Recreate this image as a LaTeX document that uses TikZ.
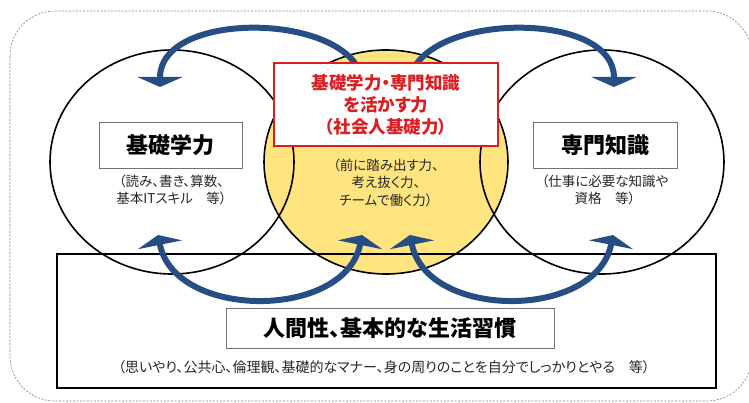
\documentclass[tikz,border=0pt]{standalone}
\usepackage{fontspec}
\setmainfont{Noto Sans CJK JP}[RawFeature={+palt}]
\usetikzlibrary{shapes.geometric,arrows.meta}

\definecolor{ringyellow}{RGB}{255,228,128}
\definecolor{arrowblue}{RGB}{38,78,132}
\definecolor{keyred}{RGB}{220,30,35}

\tikzset{
  ring/.style={ellipse, draw=black, line width=1.6pt, minimum width=244pt, minimum height=224pt, inner sep=0pt},
  labelbox/.style={draw=black!55, line width=0.8pt, fill=white, inner sep=0pt, font=\bfseries\fontsize{22}{26}\selectfont},
  note/.style={align=center, text=black!85, font=\fontsize{13.5}{16.5}\selectfont},
  bluearc/.style={arrowblue, line width=6pt, -{Triangle[width=45pt,length=10pt]}},
  bluearcs/.style={arrowblue, line width=6pt, {Triangle[width=45pt,length=10pt]}-{Triangle[width=45pt,length=10pt]}}
}

\begin{document}
\begin{tikzpicture}[x=1pt,y=-1pt]
\useasboundingbox (0,0) rectangle (749,403);
\draw[black!50, line width=0.6pt, dash pattern=on 2pt off 1.5pt, rounded corners=45pt] (10,11) rectangle (752,401);

% the three rings
\node[ring, fill=ringyellow] (mid) at (386,162) {};
\node[ring] (basic) at (172,162) {};
\node[ring] (spec) at (602,162) {};

% base box
\node[draw=black, line width=2pt, minimum width=659pt, minimum height=134pt, inner sep=0pt] (habit) at (386.5,321) {};

% arrow ends
\coordinate (tlS) at (360,72);
\coordinate (tlE) at (160,87);
\coordinate (trS) at (412,72);
\coordinate (trE) at (614,87);
\coordinate (blA) at (158,235);
\coordinate (blB) at (362,235);
\coordinate (brA) at (410,235);
\coordinate (brB) at (613,235);

\draw[bluearc] (tlS) .. controls (335,12) and (160,12) .. (tlE);
\draw[bluearc] (trS) .. controls (437,12) and (614,12) .. (trE);
\draw[bluearcs] (blA) .. controls (175,320) and (345,320) .. (blB);
\draw[bluearcs] (brA) .. controls (427,320) and (596,320) .. (brB);

% labels
\node[labelbox, draw=keyred, line width=1.6pt, minimum width=224pt, minimum height=83pt, text=keyred, align=center, font=\bfseries\fontsize{17.5}{22}\selectfont] (key) at (386,104.5) {基礎学力・専門知識\\を活かす力\\（社会人基礎力）};
\node[labelbox, minimum width=143pt, minimum height=46pt] (basicbox) at (170.5,145) {基礎学力};
\node[labelbox, minimum width=144pt, minimum height=46pt] (specbox) at (605,145) {専門知識};
\node[labelbox, minimum width=328pt, minimum height=40pt] (habitbox) at (390,328) {人間性、基本的な生活習慣};

\node[note] (basicnote) at (171.5,190) {（読み、書き、算数、\\基本ITスキル　等）};
\node[note] (specnote) at (605,190) {（仕事に必要な知識や\\資格　等）};
\node[note, font=\fontsize{13.5}{17.5}\selectfont] (midnote) at (386,182.5) {（前に踏み出す力、\\考え抜く力、\\チームで働く力）};
\node[note, font=\fontsize{14}{17}\selectfont] (habitnote) at (384,367) {（思いやり、公共心、倫理観、基礎的なマナー、身の周りのことを自分でしっかりとやる　等）};
\end{tikzpicture}
\end{document}
